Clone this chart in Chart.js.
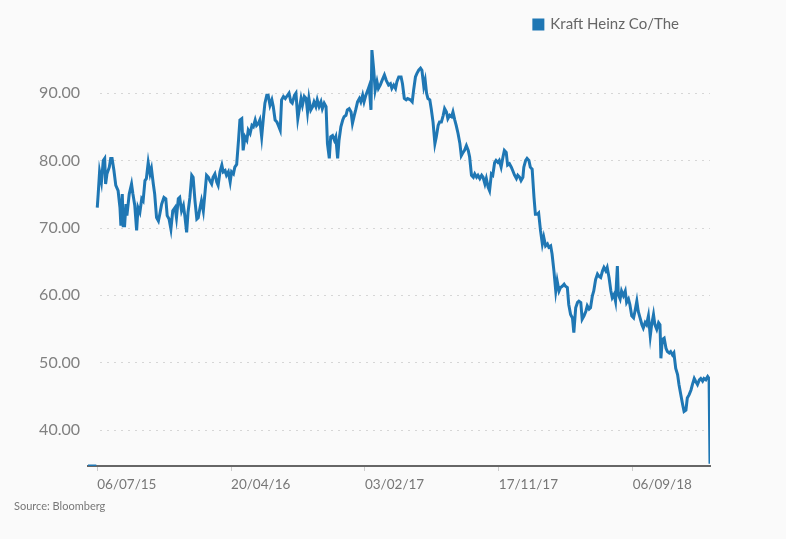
<!DOCTYPE html>
<html>
<head>
<meta charset="utf-8">
<script src="https://cdn.jsdelivr.net/npm/chart.js@4.4.1/dist/chart.umd.min.js"></script>
<style>
  html, body { margin: 0; padding: 0; background: #fafafa; }
  #wrap { position: relative; width: 786px; height: 539px; }
  #source { position: absolute; left: 14px; top: 499px; font: 11px Lato, sans-serif; color: #777; }
</style>
</head>
<body>
<div id="wrap">
  <canvas id="chart" width="786" height="539"></canvas>
  <div id="source">Source: Bloomberg</div>
</div>
<script>
// Kraft Heinz share price, days counted from 06/07/15
const seriesName = 'Kraft Heinz Co/The';

// first two points are the flat stub sitting on the axis before listing, null breaks the line
const days = [
  -20, -2, -1,
  0, 2, 5, 9, 13, 16, 18, 21, 26, 29, 32, 36, 40, 45, 49, 51, 54, 56, 59, 62,
  64, 69, 74, 77, 81, 85, 88, 92, 96, 99, 103, 106, 110, 114, 117, 121, 124, 128, 132, 135,
  139, 144, 148, 151, 155, 159, 163, 168, 171, 175, 178, 182, 186, 189, 193, 196, 200, 204, 207, 211,
  215, 218, 222, 225, 229, 233, 236, 240, 243, 247, 250, 254, 258, 261, 265, 269, 272, 276, 279, 283,
  287, 290, 294, 297, 301, 305, 308, 312, 315, 319, 323, 326, 330, 334, 337, 341, 344, 348, 351, 355,
  359, 362, 366, 369, 373, 377, 380, 384, 388, 391, 395, 398, 402, 406, 409, 414, 418, 421, 426, 429,
  433, 436, 440, 443, 447, 451, 454, 457, 461, 465, 468, 472, 475, 479, 483, 486, 490, 494, 497, 501,
  504, 508, 512, 515, 519, 522, 526, 530, 533, 537, 540, 544, 548, 551, 555, 558, 562, 566, 569, 573,
  576, 580, 584, 587, 591, 593, 597, 600, 604, 607, 611, 615, 620, 624, 629, 633, 636, 640, 644, 647,
  651, 656, 659, 663, 667, 670, 676, 680, 683, 687, 690, 694, 698, 701, 705, 708, 711, 714, 718, 721,
  725, 729, 732, 736, 739, 743, 747, 750, 754, 757, 761, 765, 768, 772, 775, 779, 783, 786, 790, 793,
  797, 801, 804, 808, 812, 815, 819, 822, 826, 830, 833, 837, 840, 844, 847, 851, 854, 858, 861, 865,
  868, 872, 876, 879, 883, 886, 890, 894, 897, 901, 905, 908, 912, 915, 919, 921, 925, 928, 932, 935,
  939, 943, 946, 950, 953, 957, 961, 964, 968, 972, 975, 979, 982, 986, 990, 993, 997, 1000, 1004, 1008,
  1011, 1015, 1018, 1022, 1026, 1029, 1033, 1037, 1040, 1044, 1047, 1051, 1055, 1058, 1062, 1065, 1069, 1072, 1076, 1080,
  1083, 1087, 1091, 1094, 1098, 1101, 1105, 1109, 1112, 1116, 1119, 1123, 1125, 1129, 1132, 1136, 1140, 1143, 1147, 1150,
  1154, 1158, 1161, 1165, 1168, 1172, 1176, 1179, 1183, 1186, 1190, 1194, 1197, 1201, 1204, 1208, 1212, 1215, 1217, 1220,
  1224, 1228, 1231, 1235, 1238, 1242, 1245, 1249, 1253, 1256, 1260, 1264, 1267, 1271, 1274, 1278, 1282, 1285, 1289, 1292,
  1296, 1300, 1303, 1307, 1310, 1314, 1318, 1321, 1323
];

const prices = [
  34.6, 34.6, null,
  73.0, 75.0, 78.3, 76.8, 80.0, 80.3, 76.5, 78.0, 79.0, 80.3, 80.3, 78.5, 76.3, 75.5, 73.0, 70.3, 75.0, 70.3, 70.3, 73.5,
  71.8, 75.0, 76.5, 75.0, 73.3, 69.6, 73.0, 72.3, 74.3, 74.0, 77.0, 77.3, 79.7, 78.0, 78.8, 76.5, 75.0, 71.5, 71.0, 72.0,
  73.5, 74.5, 74.3, 71.8, 71.3, 69.8, 72.5, 73.0, 71.5, 74.3, 74.5, 72.5, 73.3, 71.8, 69.3, 72.3, 74.5, 77.8, 77.5, 74.0,
  71.3, 71.5, 73.0, 74.0, 72.5, 75.5, 77.8, 77.5, 77.0, 76.5, 77.5, 78.0, 76.8, 76.3, 78.3, 79.3, 78.3, 78.5, 77.8, 78.3,
  76.8, 78.3, 78.0, 79.0, 79.4, 83.0, 86.0, 86.2, 81.5, 83.5, 83.0, 84.5, 84.0, 85.2, 85.0, 86.0, 85.2, 85.5, 86.0, 83.5,
  86.5, 88.5, 89.7, 89.7, 88.2, 89.0, 88.0, 86.0, 85.7, 85.2, 84.5, 89.0, 89.5, 89.2, 89.5, 90.0, 88.7, 88.5, 89.7, 90.0,
  86.2, 87.5, 89.2, 88.2, 89.5, 89.2, 87.2, 89.2, 87.5, 88.0, 88.7, 88.0, 89.0, 88.0, 88.7, 87.7, 88.5, 88.0, 82.5, 80.3,
  83.5, 83.7, 83.0, 83.5, 80.3, 83.0, 85.0, 86.0, 86.5, 86.7, 87.5, 87.7, 87.2, 85.5, 86.7, 87.5, 88.7, 89.2, 88.7, 89.7,
  88.7, 89.7, 90.4, 91.0, 87.5, 96.4, 93.4, 90.4, 91.7, 90.7, 91.2, 91.9, 92.7, 91.9, 91.2, 91.4, 90.7, 91.2, 90.7, 91.7,
  92.4, 92.4, 91.4, 89.2, 89.0, 89.2, 89.0, 88.7, 90.4, 92.4, 92.9, 93.4, 93.7, 93.4, 91.0, 91.9, 90.0, 89.2, 89.0, 87.7,
  85.7, 82.5, 83.5, 85.2, 85.7, 85.7, 86.7, 87.7, 87.2, 86.2, 86.7, 86.5, 87.2, 86.0, 85.2, 84.0, 82.5, 80.7, 81.2, 81.5,
  82.2, 81.5, 80.5, 77.8, 77.5, 78.0, 77.5, 77.8, 77.3, 77.8, 77.5, 76.5, 77.3, 76.0, 75.5, 78.0, 77.8, 79.7, 80.0, 79.7,
  80.0, 79.0, 80.5, 81.5, 81.2, 79.3, 79.5, 79.0, 78.5, 77.8, 77.3, 77.8, 77.5, 77.0, 77.5, 79.0, 80.0, 80.3, 80.0, 79.0,
  78.7, 74.5, 72.0, 72.0, 72.2, 69.6, 67.6, 68.6, 67.3, 67.6, 67.1, 67.3, 66.1, 63.6, 60.6, 62.1, 60.6, 61.1, 61.3, 61.6,
  61.3, 61.1, 58.6, 57.1, 56.6, 54.4, 58.1, 58.9, 59.1, 58.9, 56.4, 56.9, 57.6, 58.4, 57.9, 58.1, 59.9, 60.6, 62.3, 63.1,
  62.8, 62.6, 63.6, 64.1, 63.6, 64.1, 62.6, 60.6, 59.6, 60.1, 59.1, 64.3, 60.1, 59.4, 60.6, 59.9, 60.6, 58.9, 59.4, 58.6,
  56.9, 56.6, 57.6, 59.1, 57.6, 56.6, 55.6, 55.1, 55.9, 55.6, 56.9, 53.9, 55.6, 57.1, 55.6, 54.9, 55.9, 55.6, 50.6, 53.4,
  53.6, 52.1, 51.6, 51.4, 51.6, 51.1, 51.4, 49.1, 48.2, 46.7, 45.2, 43.7, 42.7, 42.9, 44.7, 45.2, 45.9, 46.7, 47.6, 47.2,
  46.7, 47.4, 47.6, 47.2, 47.6, 47.4, 47.9, 47.6, 34.95
];

// x axis tick positions (days) and their labels
const xTickDays = [0, 289, 578, 867, 1156];
const xTickLabels = ['06/07/15', '20/04/16', '03/02/17', '17/11/17', '06/09/18'];
const yTicks = [40, 50, 60, 70, 80, 90];

const points = days.map((d, i) => ({ x: d, y: prices[i] }));

const ctx = document.getElementById('chart').getContext('2d');
new Chart(ctx, {
    type: 'line',
    data: {
        datasets: [{
            label: seriesName,
            data: points,
            borderColor: '#1f77b4',
            backgroundColor: '#1f77b4',
            borderWidth: 3,
            pointRadius: 0,
            tension: 0,
            spanGaps: false,
        }],
    },
    options: {
        responsive: false,
        animation: false,
        layout: { padding: { left: 0, right: 76, top: 11, bottom: 43 } },
        plugins: {
            legend: {
                position: 'top',
                align: 'end',
                labels: {
                    boxWidth: 9,
                    boxHeight: 9,
                    color: '#666',
                    font: { family: 'Lato', size: 15 },
                    padding: 10,
                },
            },
            tooltip: { enabled: false },
        },
        scales: {
            x: {
                type: 'linear',
                min: -20,
                max: 1323,
                afterBuildTicks: (scale) => {
                    scale.ticks = xTickDays.map(v => ({ value: v }));
                },
                afterFit: (scale) => { scale.height = 30; },
                ticks: {
                    align: 'start',
                    maxRotation: 0,
                    color: '#777',
                    font: { family: 'Lato', size: 13.5 },
                    padding: 6,
                    callback: (value) => xTickLabels[xTickDays.indexOf(value)],
                },
                grid: {
                    drawOnChartArea: false,
                    tickLength: 5,
                    tickColor: '#ccc',
                },
                border: { color: '#666', width: 2 },
            },
            y: {
                min: 34.6,
                max: 97,
                afterBuildTicks: (scale) => {
                    scale.ticks = yTicks.map(v => ({ value: v }));
                },
                afterFit: (scale) => { scale.width = 88; },
                ticks: {
                    color: '#808080',
                    font: { family: 'Lato', size: 16 },
                    padding: 0,
                    callback: (value) => value.toFixed(2),
                },
                grid: { display: false },
                border: { display: false },
            },
        },
    },
    plugins: [{
        // nudge the legend and draw the dotted horizontal grid lines
        id: 'dottedGrid',
        afterLayout(chart) {
            chart.legend.right -= 21;
            chart.legend.top -= 4;
            chart.legend.bottom -= 4;
        },
        beforeDatasetsDraw(chart) {
            const { ctx, chartArea, scales } = chart;
            ctx.save();
            ctx.strokeStyle = '#d6d6d6';
            ctx.lineWidth = 1;
            ctx.setLineDash([2, 5]);
            yTicks.forEach(v => {
                const y = Math.round(scales.y.getPixelForValue(v)) + 0.5;
                ctx.beginPath();
                ctx.moveTo(chartArea.left + 12, y);
                ctx.lineTo(chartArea.right, y);
                ctx.stroke();
            });
            ctx.restore();
        },
    }],
});
</script>
</body>
</html>
